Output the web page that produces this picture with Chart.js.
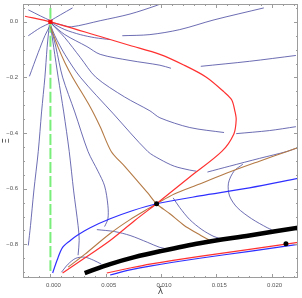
<!DOCTYPE html>
<html>
<head>
<meta charset="utf-8">
<script src="https://cdn.jsdelivr.net/npm/chart.js@4"></script>
<style>
html, body { margin: 0; padding: 0; background: #fff; }
canvas { display: block; }
</style>
</head>
<body>
<canvas id="phaseChart" width="302" height="298"></canvas>
<script>
// axis ticks
var xTicks = [0, 0.005, 0.010, 0.015, 0.020];
var yTicks = [0, -0.2, -0.4, -0.6, -0.8];

// fixed points [lambda, xi]
var originPt = [[0, 0]];
var saddlePt = [[0.0096, -0.654]];
var cornerPt = [[0.0213, -0.798]];

// red and blue curves
var redCurve = [[-0.0023, 0.020], [0.0000, 0.000], [0.0045, -0.053], [0.0072, -0.085], [0.0099, -0.117],
    [0.0121, -0.156], [0.0141, -0.199], [0.0157, -0.252], [0.0164, -0.281], [0.0167, -0.324],
    [0.0168, -0.352], [0.0166, -0.402], [0.0155, -0.466], [0.0126, -0.558], [0.0099, -0.644],
    [0.0096, -0.654], [0.0076, -0.715], [0.0054, -0.786], [0.0027, -0.860], [0.0011, -0.903]];
var redLow = [[0.0051, -0.903], [0.0072, -0.885], [0.0090, -0.871], [0.0135, -0.843], [0.0180, -0.818], [0.0224, -0.793]];
var blueLow = [[0.0054, -0.910], [0.0072, -0.892], [0.0090, -0.878], [0.0135, -0.850], [0.0180, -0.825], [0.0224, -0.800]];
var blueCurve = [[0.0002, -0.903], [0.0006, -0.857], [0.0011, -0.811], [0.0018, -0.786], [0.0024, -0.768],
    [0.0036, -0.740], [0.0054, -0.708], [0.0074, -0.679], [0.0096, -0.654], [0.0135, -0.626],
    [0.0180, -0.597], [0.0224, -0.563]];
var blackBand = [[0.0031, -0.903], [0.0054, -0.871], [0.0076, -0.846], [0.0099, -0.825], [0.0135, -0.796], [0.0180, -0.768], [0.0224, -0.740]];

// manifolds through the saddle
var brownUpper = [[0.0000, -0.018], [0.0007, -0.092], [0.0013, -0.146], [0.0020, -0.199], [0.0036, -0.306],
    [0.0045, -0.377], [0.0055, -0.466], [0.0067, -0.519], [0.0078, -0.569], [0.0088, -0.615],
    [0.0096, -0.654], [0.0108, -0.690], [0.0121, -0.732], [0.0133, -0.761], [0.0144, -0.786]];
var brownLower = [[0.0016, -0.882], [0.0031, -0.836], [0.0054, -0.761], [0.0072, -0.711], [0.0090, -0.668],
    [0.0096, -0.654], [0.0112, -0.619], [0.0135, -0.583], [0.0162, -0.540], [0.0189, -0.501],
    [0.0214, -0.466], [0.0224, -0.452]];
var greenLine = [[0, 0.050], [0, -0.900]];

// stream lines
var sA = [[-0.0020, 0.043], [-0.0009, 0.021], [0.0000, 0.004]];
var sB = [[-0.0020, -0.050], [-0.0009, -0.021], [0.0000, -0.004]];
var sC = [[-0.0019, -0.196], [-0.0011, -0.110], [-0.0005, -0.050], [0.0000, -0.011]];
var sD = [[0.0000, 0.004], [0.0009, 0.025], [0.0020, 0.050]];
var sE = [[0.0001, -0.002], [0.0010, -0.011], [0.0019, -0.018], [0.0045, 0.004], [0.0072, 0.028], [0.0097, 0.060], [0.0101, 0.068]];
var sF = [[0.0065, -0.050], [0.0090, -0.046], [0.0117, -0.028], [0.0148, 0.007], [0.0193, 0.050]];
var sG = [[0.0001, -0.004], [0.0013, -0.028], [0.0027, -0.046], [0.0040, -0.057], [0.0054, -0.064]];
var s7 = [[0.0001, -0.007], [0.0013, -0.046], [0.0033, -0.089], [0.0045, -0.117], [0.0072, -0.139], [0.0099, -0.156], [0.0109, -0.167]];
var s7b = [[0.0136, -0.160], [0.0180, -0.142], [0.0222, -0.121]];
var s6 = [[0.0001, -0.007], [0.0013, -0.057], [0.0027, -0.128], [0.0041, -0.199], [0.0067, -0.270],
    [0.0090, -0.320], [0.0099, -0.345], [0.0126, -0.380], [0.0157, -0.398]];
var s6b = [[0.0168, -0.402], [0.0198, -0.391], [0.0222, -0.377]];
var s5 = [[0.0000, -0.011], [0.0004, -0.050], [0.0013, -0.117], [0.0027, -0.199], [0.0057, -0.331],
    [0.0088, -0.466], [0.0099, -0.494], [0.0112, -0.519], [0.0126, -0.533], [0.0132, -0.537]];
var s5b = [[0.0142, -0.540], [0.0162, -0.519], [0.0189, -0.491], [0.0214, -0.466], [0.0224, -0.452]];
var s1 = [[-0.0001, -0.011], [-0.0003, -0.092], [-0.0005, -0.199], [-0.0008, -0.324], [-0.0011, -0.466],
    [-0.0015, -0.608], [-0.0018, -0.732], [-0.0020, -0.804]];
var s2 = [[0.0000, -0.011], [0.0003, -0.092], [0.0007, -0.199], [0.0012, -0.324], [0.0017, -0.466],
    [0.0021, -0.608], [0.0025, -0.732], [0.0026, -0.786], [0.0025, -0.839]];
var s3 = [[0.0000, -0.011], [0.0005, -0.092], [0.0011, -0.199], [0.0022, -0.324], [0.0034, -0.466],
    [0.0043, -0.537], [0.0049, -0.590], [0.0052, -0.661], [0.0052, -0.708], [0.0049, -0.736]];
var sM = [[0.0042, -0.747], [0.0058, -0.754], [0.0072, -0.768], [0.0088, -0.793], [0.0099, -0.811], [0.0108, -0.818]];
var sN = [[0.0010, -0.900], [0.0016, -0.871], [0.0023, -0.850], [0.0031, -0.846], [0.0039, -0.857], [0.0046, -0.871]];
var sP = [[0.0111, -0.633], [0.0117, -0.668], [0.0126, -0.711], [0.0137, -0.747], [0.0148, -0.772], [0.0156, -0.782]];
var sQ = [[0.0174, -0.512], [0.0166, -0.537], [0.0161, -0.580], [0.0162, -0.626], [0.0169, -0.668],
    [0.0182, -0.708], [0.0196, -0.740], [0.0200, -0.747]];
var streams = [sA, sB, sC, sD, sE, sF, sG, s7, s7b, s6, s6b, s5, s5b, s1, s2, s3, sM, sN, sP, sQ];

function pts(arr) {
    return arr.map(function (p) { return { x: p[0], y: p[1] }; });
}

function curve(arr, color, width, dash) {
    return {
        data: pts(arr),
        showLine: true,
        borderColor: color,
        borderWidth: width,
        borderDash: dash || [],
        pointRadius: 0,
        tension: 0.3,
        fill: false
    };
}

function dots(arr, color, style, r) {
    return {
        data: pts(arr),
        showLine: false,
        pointStyle: style,
        pointRadius: r,
        backgroundColor: color,
        borderColor: color,
        borderWidth: 0
    };
}

// first dataset ends up on top
var sets = [
    dots(originPt, '#ee1111', 'rect', 3),
    dots(saddlePt, '#000', 'circle', 2.5),
    dots(cornerPt, '#000', 'circle', 2.5),
    curve(blackBand, '#000', 4.5),
    curve(redCurve, '#ff3030', 1.2),
    curve(redLow, '#ff3030', 1.2),
    curve(blueLow, '#2f2fff', 1.2),
    curve(blueCurve, '#2f2fff', 1.2),
    curve(brownUpper, '#b47a45', 1.1),
    curve(brownLower, '#b47a45', 1.1),
    curve(greenLine, '#7aee7a', 2, [11, 3])
];
streams.forEach(function (s) {
    sets.push(curve(s, 'rgba(72,72,160,0.8)', 1));
});

// frame, inward ticks, tick labels and axis titles (Mathematica style)
var framePlugin = {
    id: 'frame',
    afterDatasetsDraw: function (chart) {
        var ctx = chart.ctx, a = chart.chartArea;
        var xs = chart.scales.x, ys = chart.scales.y;
        ctx.save();
        ctx.strokeStyle = '#9c9c9c';
        ctx.lineWidth = 1;
        ctx.strokeRect(a.left + 0.5, a.top + 0.5, a.right - a.left - 1, a.bottom - a.top - 1);
        ctx.beginPath();
        for (var i = -2; i <= 22; i++) {
            var px = Math.round(xs.getPixelForValue(i / 1000)) + 0.5;
            if (px < a.left || px > a.right) continue;
            var len = (i % 5 === 0) ? 4 : 2;
            ctx.moveTo(px, a.bottom); ctx.lineTo(px, a.bottom - len);
            ctx.moveTo(px, a.top); ctx.lineTo(px, a.top + len);
        }
        for (var j = -18; j <= 1; j++) {
            var py = Math.round(ys.getPixelForValue(j * 0.05)) + 0.5;
            if (py < a.top || py > a.bottom) continue;
            var len2 = (j % 4 === 0) ? 4 : 2;
            ctx.moveTo(a.left, py); ctx.lineTo(a.left + len2, py);
            ctx.moveTo(a.right, py); ctx.lineTo(a.right - len2, py);
        }
        ctx.stroke();

        ctx.fillStyle = '#555';
        ctx.font = '6px "Liberation Sans"';
        ctx.textBaseline = 'middle';
        ctx.textAlign = 'center';
        xTicks.forEach(function (v) {
            ctx.fillText(v.toFixed(3), xs.getPixelForValue(v) + 3, a.bottom + 7);
        });
        ctx.textAlign = 'right';
        yTicks.forEach(function (v) {
            var t = v === 0 ? '0.0' : '\u2212' + Math.abs(v).toFixed(1);
            ctx.fillText(t, a.left - 5, ys.getPixelForValue(v));
        });

        ctx.fillStyle = '#444';
        ctx.font = '9px "DejaVu Sans"';
        ctx.textAlign = 'center';
        ctx.fillText('\u03BB\u0304', (a.left + a.right) / 2, 292);
        ctx.translate(7, (a.top + a.bottom) / 2);
        ctx.rotate(-Math.PI / 2);
        ctx.fillText('\u039E\u0304', 0, 0);
        ctx.restore();
    }
};

const phaseChart = document.getElementById('phaseChart');
new Chart(phaseChart, {
    type: 'scatter',
    data: { datasets: sets },
    plugins: [framePlugin],
    options: {
        responsive: false,
        animation: false,
        devicePixelRatio: 1,
        layout: { padding: { left: 23, right: 3, top: 1, bottom: 20 } },
        plugins: { legend: { display: false }, tooltip: { enabled: false } },
        scales: {
            x: { type: 'linear', display: false, min: -0.00248, max: 0.02239 },
            y: { type: 'linear', display: false, min: -0.9209, max: 0.064 }
        }
    }
});
</script>
</body>
</html>
